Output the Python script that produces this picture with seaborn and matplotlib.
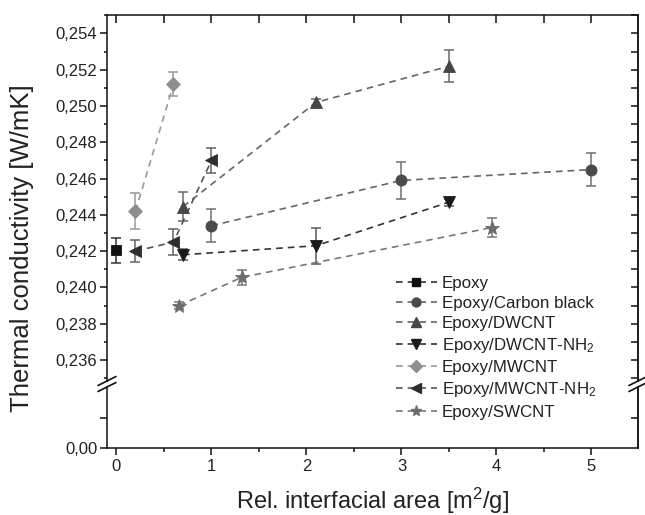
import matplotlib
matplotlib.use("Agg")
import matplotlib.pyplot as plt
from matplotlib.lines import Line2D
from matplotlib.ticker import MultipleLocator, FuncFormatter, FixedLocator
import seaborn as sns
import pandas as pd

# ---------------- data ----------------
series_names = ["Epoxy", "Epoxy/Carbon black", "Epoxy/DWCNT",
                "Epoxy/DWCNT-NH$\\mathregular{_2}$", "Epoxy/MWCNT",
                "Epoxy/MWCNT-NH$\\mathregular{_2}$", "Epoxy/SWCNT"]

epoxy_x = [0.0]
epoxy_y = [0.24205]
epoxy_err = [0.0007]

cb_x = [1.0, 3.0, 5.0]
cb_y = [0.2434, 0.2459, 0.2465]
cb_err = [0.0009, 0.0010, 0.0009]

dw_x = [0.7, 2.1, 3.5]
dw_y = [0.24445, 0.2502, 0.2522]
dw_err = [0.0008, 0.0002, 0.0009]

dwnh_x = [0.7, 2.1, 3.5]
dwnh_y = [0.2418, 0.2423, 0.2447]
dwnh_err = [0.0003, 0.0010, 0.0002]

mw_x = [0.2, 0.6]
mw_y = [0.2442, 0.2512]
mw_err = [0.0010, 0.00065]

mwnh_x = [0.2, 0.6, 1.0]
mwnh_y = [0.2420, 0.2425, 0.2470]
mwnh_err = [0.0006, 0.0007, 0.0007]

sw_x = [0.66, 1.32, 3.95]
sw_y = [0.2390, 0.24056, 0.2433]
sw_err = [0.0002, 0.0004, 0.0005]

xs = [epoxy_x, cb_x, dw_x, dwnh_x, mw_x, mwnh_x, sw_x]
ys = [epoxy_y, cb_y, dw_y, dwnh_y, mw_y, mwnh_y, sw_y]
errs = [epoxy_err, cb_err, dw_err, dwnh_err, mw_err, mwnh_err, sw_err]

markers = ["s", "o", "^", "v", "D", "<", "*"]
msizes = [7, 8, 8.5, 8.5, 7.5, 8.5, 10]
colors = ["#111111", "#4a4a4a", "#474747", "#1a1a1a", "#8e8e8e", "#2e2e2e", "#6c6c6c"]
errcolors = ["#333333", "#707070", "#6a6a6a", "#5a5a5a", "#9a9a9a", "#646464", "#757575"]
linecolors = ["#333333", "#666666", "#666666", "#333333", "#9a9a9a", "#555555", "#777777"]

# ---------------- style ----------------
sns.set_theme(style="ticks")
plt.rcParams["font.family"] = ["Liberation Sans", "DejaVu Sans"]
plt.rcParams["mathtext.fontset"] = "custom"
plt.rcParams["mathtext.rm"] = "Liberation Sans"
plt.rcParams["mathtext.it"] = "Liberation Sans:italic"
plt.rcParams["mathtext.bf"] = "Liberation Sans:bold"

W, H = 645, 515
fig = plt.figure(figsize=(W / 100, H / 100), dpi=100)

def fx(px):
    return px / W

def fy(py):
    return 1 - py / H

L, R = 107, 638
T_top, T_bot = 15, 381
B_top, B_bot = 387, 448

ax = fig.add_axes([fx(L), fy(T_bot), fx(R) - fx(L), fy(T_top) - fy(T_bot)])
axb = fig.add_axes([fx(L), fy(B_bot), fx(R) - fx(L), fy(B_top) - fy(B_bot)])

xlim = (-0.1, 5.49)
ax.set_xlim(*xlim)
axb.set_xlim(*xlim)
ax.set_ylim(0.23484, 0.25502)
axb.set_ylim(0.0, 0.0102)

dash = (0, (4, 3))
for name, x, y, e, m, ms, c, ec, lc in zip(series_names, xs, ys, errs, markers,
                                          msizes, colors, errcolors, linecolors):
    df = pd.DataFrame({"x": x, "y": y})
    ax.errorbar(x, y, yerr=e, fmt="none", ecolor=ec, elinewidth=1.1,
                capsize=3.5, capthick=1.1, zorder=2)
    sns.lineplot(data=df, x="x", y="y", ax=ax, color=lc, linestyle=dash,
                 linewidth=1.2, marker=None, label=None, legend=False, zorder=3)
    ax.plot(x, y, linestyle="none", marker=m, markersize=ms, color=c,
            markeredgecolor=c, markeredgewidth=0.6, zorder=4)

# ---------------- axes styling ----------------
lw = 1.1
for a in (ax, axb):
    for s in a.spines.values():
        s.set_linewidth(lw)
        s.set_color("#111111")
    a.set_xlabel("")
    a.set_ylabel("")
    a.grid(False)

ax.spines["bottom"].set_visible(False)
axb.spines["top"].set_visible(False)

# upper axis ticks
ax.yaxis.set_major_locator(MultipleLocator(0.002))
ax.yaxis.set_minor_locator(MultipleLocator(0.001))
ax.yaxis.set_major_formatter(FuncFormatter(lambda v, p: f"{v:.3f}".replace(".", ",")))
ax.xaxis.set_major_locator(MultipleLocator(1))
ax.xaxis.set_minor_locator(MultipleLocator(0.5))
ax.tick_params(axis="x", which="both", bottom=False, labelbottom=False,
               top=True, direction="in", length=6, width=lw, color="#111111")
ax.tick_params(axis="y", which="major", left=True, right=False, direction="out",
               length=5, width=lw, labelsize=12, pad=2, labelcolor="#222222", color="#111111")
ax.tick_params(axis="y", which="minor", left=True, right=False, direction="out",
               length=2.5, width=lw, color="#111111")
axr = ax.secondary_yaxis("right")
axr.yaxis.set_major_locator(MultipleLocator(0.001))
axr.tick_params(axis="y", direction="in", length=5, width=lw, labelright=False, color="#111111")
axr.spines["right"].set_linewidth(lw)

# lower axis ticks
axb.yaxis.set_major_locator(FixedLocator([0.0]))
axb.yaxis.set_minor_locator(FixedLocator([0.005]))
axb.yaxis.set_major_formatter(FuncFormatter(lambda v, p: "0,00"))
axb.xaxis.set_major_locator(MultipleLocator(1))
axb.xaxis.set_minor_locator(MultipleLocator(0.5))
axb.xaxis.set_major_formatter(FuncFormatter(lambda v, p: f"{int(round(v))}"))
axb.tick_params(axis="x", which="major", bottom=True, top=False, direction="out",
                length=5, width=lw, labelsize=12, pad=3, labelcolor="#222222", color="#111111")
axb.tick_params(axis="x", which="minor", bottom=True, top=False, direction="out",
                length=3, width=lw, color="#111111")
axb.tick_params(axis="y", which="major", left=True, direction="out", length=5,
                width=lw, labelsize=12, pad=2, labelcolor="#222222", color="#111111")
axb.tick_params(axis="y", which="minor", left=True, direction="out", length=5,
                width=lw, color="#111111")
axbr = axb.secondary_yaxis("right")
axbr.yaxis.set_major_locator(FixedLocator([0.005]))
axbr.tick_params(axis="y", direction="in", length=5, width=lw, labelright=False, color="#111111")
axbr.spines["right"].set_linewidth(lw)

# break marks
for xc in (L, R):
    for yc in (T_bot, B_top):
        fig.add_artist(Line2D([fx(xc - 9), fx(xc + 9)], [fy(yc + 4.5), fy(yc - 4.5)],
                              color="#111111", linewidth=1.2))

# labels
fig.text(fx(22), fy(248), "Thermal conductivity [W/mK]", rotation=90,
         ha="center", va="center", fontsize=18.5, color="#222222")
fig.text(fx(372), 0.012, "Rel. interfacial area [m$^2$/g]",
         ha="center", va="baseline", fontsize=17, color="#222222")

# legend
handles = [Line2D([], [], color=lc, linestyle=dash, linewidth=1.2, marker=m,
                  markersize=ms * 0.8, markerfacecolor=c, markeredgecolor=c)
           for m, ms, c, lc in zip(markers, msizes, colors, linecolors)]
fig.legend(handles, series_names, loc="upper left",
           bbox_to_anchor=(fx(396), fy(276)), bbox_transform=fig.transFigure,
           frameon=False, fontsize=12.2, handlelength=2.4, handletextpad=0.3,
           labelspacing=0.3, borderpad=0, borderaxespad=0, labelcolor="#222222")

fig.savefig("out.png", dpi=100)
